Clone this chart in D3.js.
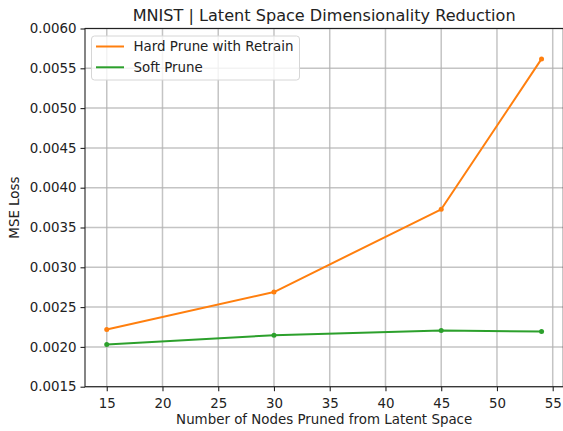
<!DOCTYPE html>
<html>
<head>
<meta charset="utf-8">
<script src="https://cdn.jsdelivr.net/npm/d3@7/dist/d3.min.js"></script>
<style>
  html, body { margin: 0; padding: 0; background: #fff; }
  svg { display: block; font-family: "DejaVu Sans", sans-serif; }
</style>
</head>
<body>
<svg id="chart" width="563" height="431"></svg>
<script>
// Nodes pruned from the latent space
const nodesPruned = [15, 30, 45, 54];
// MSE loss per pruning level
const hardPrune = [0.002219, 0.002689, 0.003729, 0.005618];
const softPrune = [0.002030, 0.002147, 0.002206, 0.002194];

const seriesNames = ["Hard Prune with Retrain", "Soft Prune"];
const seriesColors = ["#ff7f0e", "#2ca02c"];

const xTicks = [15, 20, 25, 30, 35, 40, 45, 50, 55];
const yTicks = [0.0015, 0.0020, 0.0025, 0.0030, 0.0035, 0.0040, 0.0045, 0.0050, 0.0055, 0.0060];

const titleText = "MNIST | Latent Space Dimensionality Reduction";
const xLabel = "Number of Nodes Pruned from Latent Space";
const yLabel = "MSE Loss";

const svg = d3.select("#chart");
const plot = { left: 85, right: 563.3, top: 28.5, bottom: 386.7 };
const fs = 13.4;

const x = d3.scaleLinear().domain([13.05, 55.95]).range([plot.left, plot.right]);
const y = d3.scaleLinear().domain([0.0015, 0.0060]).range([plot.bottom, plot.top]);

// grid
const grid = svg.append("g");
grid.selectAll("line.gx").data(xTicks).join("line")
  .attr("x1", d => x(d)).attr("x2", d => x(d))
  .attr("y1", plot.top).attr("y2", plot.bottom)
  .attr("stroke", "#b0b0b0").attr("stroke-opacity", 0.75).attr("stroke-width", 1.5);
grid.selectAll("line.gy").data(yTicks).join("line")
  .attr("x1", plot.left).attr("x2", plot.right)
  .attr("y1", d => y(d)).attr("y2", d => y(d))
  .attr("stroke", "#b0b0b0").attr("stroke-opacity", 0.75).attr("stroke-width", 1.5);

// axes
const xAxis = d3.axisBottom(x).tickValues(xTicks).tickSize(4.5).tickPadding(4).tickFormat(d3.format("d"));
const yAxis = d3.axisLeft(y).tickValues(yTicks).tickSize(4.5).tickPadding(4).tickFormat(d3.format(".4f"));

const gx = svg.append("g").attr("transform", `translate(0,${plot.bottom})`).call(xAxis);
const gy = svg.append("g").attr("transform", `translate(${plot.left},0)`).call(yAxis);
[gx, gy].forEach(g => {
  g.select(".domain").remove();
  g.selectAll(".tick line").attr("stroke", "#222").attr("stroke-width", 1.1);
  g.selectAll(".tick text").attr("fill", "#222").attr("font-size", fs)
    .attr("font-family", "DejaVu Sans, sans-serif");
});
gx.selectAll(".tick text").attr("dy", "0.95em");

// spines
svg.append("rect")
  .attr("x", plot.left).attr("y", plot.top)
  .attr("width", plot.right - plot.left).attr("height", plot.bottom - plot.top)
  .attr("fill", "none").attr("stroke", "#222").attr("stroke-width", 1.1);

// series
const series = [hardPrune, softPrune];
const line = d3.line().x((d, i) => x(nodesPruned[i])).y(d => y(d));
series.forEach((vals, s) => {
  svg.append("path").datum(vals)
    .attr("d", line).attr("fill", "none")
    .attr("stroke", seriesColors[s]).attr("stroke-width", 2)
    .attr("stroke-linejoin", "round");
  svg.append("g").selectAll("circle").data(vals).join("circle")
    .attr("cx", (d, i) => x(nodesPruned[i])).attr("cy", d => y(d))
    .attr("r", 2.5).attr("fill", seriesColors[s]);
});

// legend
const lg = svg.append("g");
lg.append("rect")
  .attr("x", 91.5).attr("y", 36).attr("width", 208).attr("height", 44)
  .attr("rx", 3).attr("fill", "#fff").attr("fill-opacity", 0.8)
  .attr("stroke", "#d6d6d6").attr("stroke-width", 1);
seriesNames.forEach((name, i) => {
  const yy = 46.5 + i * 20.8;
  lg.append("line").attr("x1", 96).attr("x2", 124).attr("y1", yy).attr("y2", yy)
    .attr("stroke", seriesColors[i]).attr("stroke-width", 2);
  lg.append("text").attr("x", 133.5).attr("y", yy).attr("dy", "0.35em")
    .attr("font-size", fs).attr("fill", "#222").text(name);
});

// title and labels
svg.append("text").attr("x", (plot.left + plot.right) / 2).attr("y", 20.5)
  .attr("text-anchor", "middle").attr("font-size", 16.1).attr("fill", "#222").text(titleText);
svg.append("text").attr("x", (plot.left + plot.right) / 2).attr("y", 423.5)
  .attr("text-anchor", "middle").attr("font-size", fs).attr("fill", "#222").text(xLabel);
svg.append("text")
  .attr("transform", `translate(19,${(plot.top + plot.bottom) / 2}) rotate(-90)`)
  .attr("text-anchor", "middle").attr("font-size", fs).attr("fill", "#222").text(yLabel);
</script>
</body>
</html>
